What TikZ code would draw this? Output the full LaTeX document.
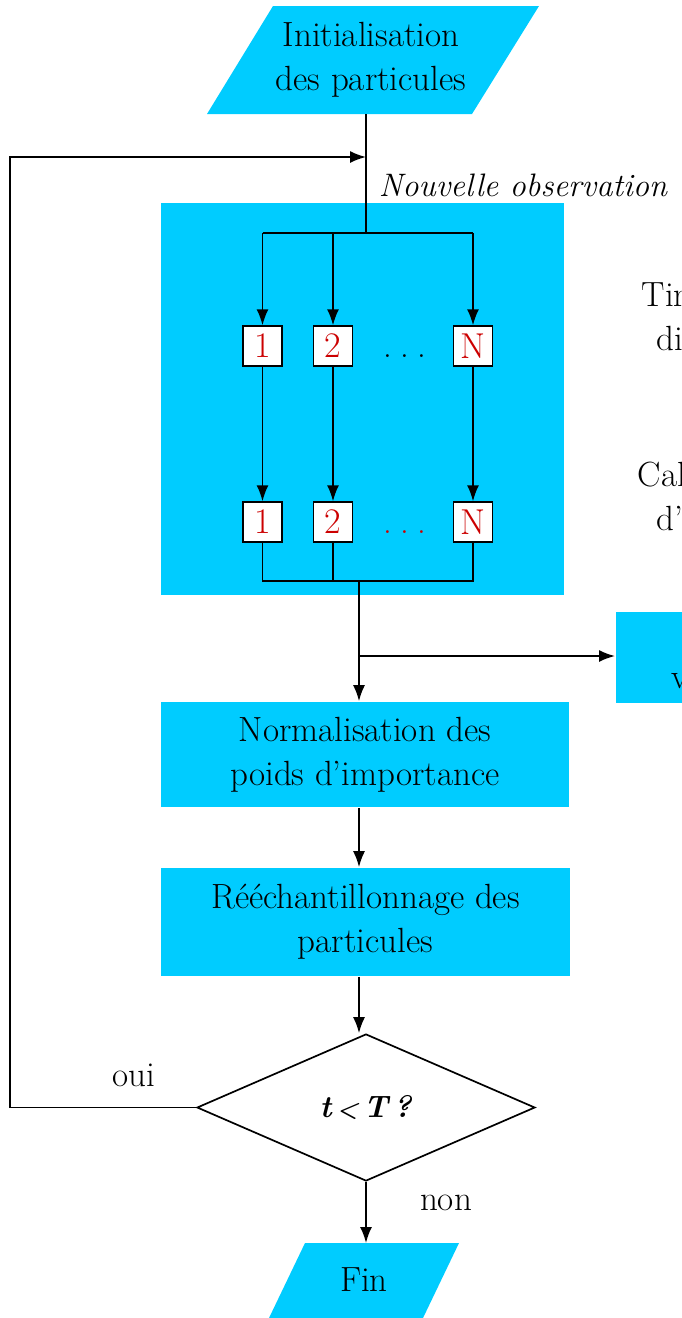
\documentclass[tikz,border=0pt]{standalone}
\usepackage{fontspec}
\usetikzlibrary{shapes.geometric,arrows.meta}
\definecolor{cyanfill}{RGB}{0,204,255}
\definecolor{numred}{RGB}{204,0,0}
\newcommand\bigtxt{\fontsize{35}{44}\selectfont}
\newcommand\numtxt{\fontsize{36}{36}\selectfont}
\newcommand\spreaddots{.\hspace{8.5pt}.\hspace{8.5pt}.}

\begin{document}
\begin{tikzpicture}[x=1pt,y=-1pt,
  line width=1.7pt,
  arr/.style={-{Latex[length=16pt,width=12pt]}},
  block/.style={rectangle,fill=cyanfill,inner sep=0pt,align=center,font=\bigtxt},
  particle/.style={rectangle,draw,fill=white,line width=1.4pt,minimum width=39pt,minimum height=40pt,inner sep=0pt,text=numred,font=\numtxt},
  lbl/.style={font=\bigtxt,inner sep=0pt,align=center}
]
\useasboundingbox (0,0) rectangle (682,1318);
\clip (0,0) rectangle (682,1318);

% start block (parallelogram)
\fill[cyanfill] (273,6) -- (539,6) -- (472,114) -- (207,114) -- cycle;
\node[lbl] (init) at (371,60) {Initialisation\\des particules};

% particle cloud
\node[block, minimum width=403pt, minimum height=392pt] (cloud) at (362.5,399) {};

\node[particle] (p1t) at (262.5,346) {1};
\node[particle] (p2t) at (333,346) {2};
\node[particle] (pNt) at (473,346) {N};
\node[lbl, anchor=base] (dt) at (405,357) {\spreaddots};

\node[particle] (p1b) at (262.5,522) {1};
\node[particle] (p2b) at (333,522) {2};
\node[particle] (pNb) at (473,522) {N};
\node[lbl, anchor=base, text=numred] (db) at (405,533) {\spreaddots};

\node[lbl, anchor=base west, font=\fontsize{32.5}{40}\selectfont\itshape] (obs) at (378,196) {Nouvelle observation};

% side labels
\node[lbl, anchor=base west] (s1) at (641,306) {Tir};
\node[lbl, anchor=base west] (s2) at (656,350) {di};
\node[lbl, anchor=base west] (s3) at (637,486) {Cal};
\node[lbl, anchor=base west] (s4) at (656,530) {d’};

% side output block
\node[block, anchor=north west, minimum width=100pt, minimum height=91pt] (lik) at (615,611) {};
\node[lbl, anchor=base west] (s5) at (671,688) {v};

% main chain
\node[block, minimum width=408pt, minimum height=105pt] (norm) at (365,754.5)
      {Normalisation des\\poids d’importance};
\node[block, minimum width=409pt, minimum height=108pt] (resamp) at (365.5,922)
      {Rééchantillonnage des\\particules};
\node[diamond, draw, fill=white, inner sep=0pt, minimum width=338pt, minimum height=147pt,
      font=\fontsize{31}{31}\selectfont] (dec) at (366,1107.5)
      {\textbf{\textit{t\,{\fontsize{24}{24}\selectfont<}\,T\,?}}};

% end block (parallelogram)
\fill[cyanfill] (305,1243) -- (459,1243) -- (423,1318) -- (269,1318) -- cycle;
\node[lbl] (fin) at (364,1280) {Fin};

\node[lbl, anchor=base] (oui) at (134,1086) {oui};
\node[lbl, anchor=base] (non) at (446,1210) {non};

% connectors
\coordinate (initbot) at (366,114);
\coordinate (top) at (366,233);
\coordinate (fb) at (366,157);
\coordinate (lefttop) at (10,157);
\coordinate (merge) at (359,581);
\coordinate (split) at (359,656);
\coordinate (fintop) at (366,1243);

\draw (initbot) -- (top);
\draw[arr] (dec.west) -| (lefttop) -- (fb);

\draw (p1t.north |- top) -- (pNt.north |- top);
\draw[arr] (p1t.north |- top) -- (p1t.north);
\draw[arr] (p2t.north |- top) -- (p2t.north);
\draw[arr] (pNt.north |- top) -- (pNt.north);

\draw[arr] (p1t.south) -- (p1b.north);
\draw[arr] (p2t.south) -- (p2b.north);
\draw[arr] (pNt.south) -- (pNb.north);

\draw (p1b.south) |- (pNb.south |- merge) -- (pNb.south);
\draw (p2b.south) -- (p2b.south |- merge);

\draw[arr] (merge) -- (merge |- norm.north);
\draw[arr] (split) -- (split -| lik.west);
\draw[arr] (norm.south -| merge) -- (resamp.north -| merge);
\draw[arr] (resamp.south -| merge) -- (dec.north -| merge);
\draw[arr] (dec.south) -- (fintop);
\end{tikzpicture}
\end{document}
